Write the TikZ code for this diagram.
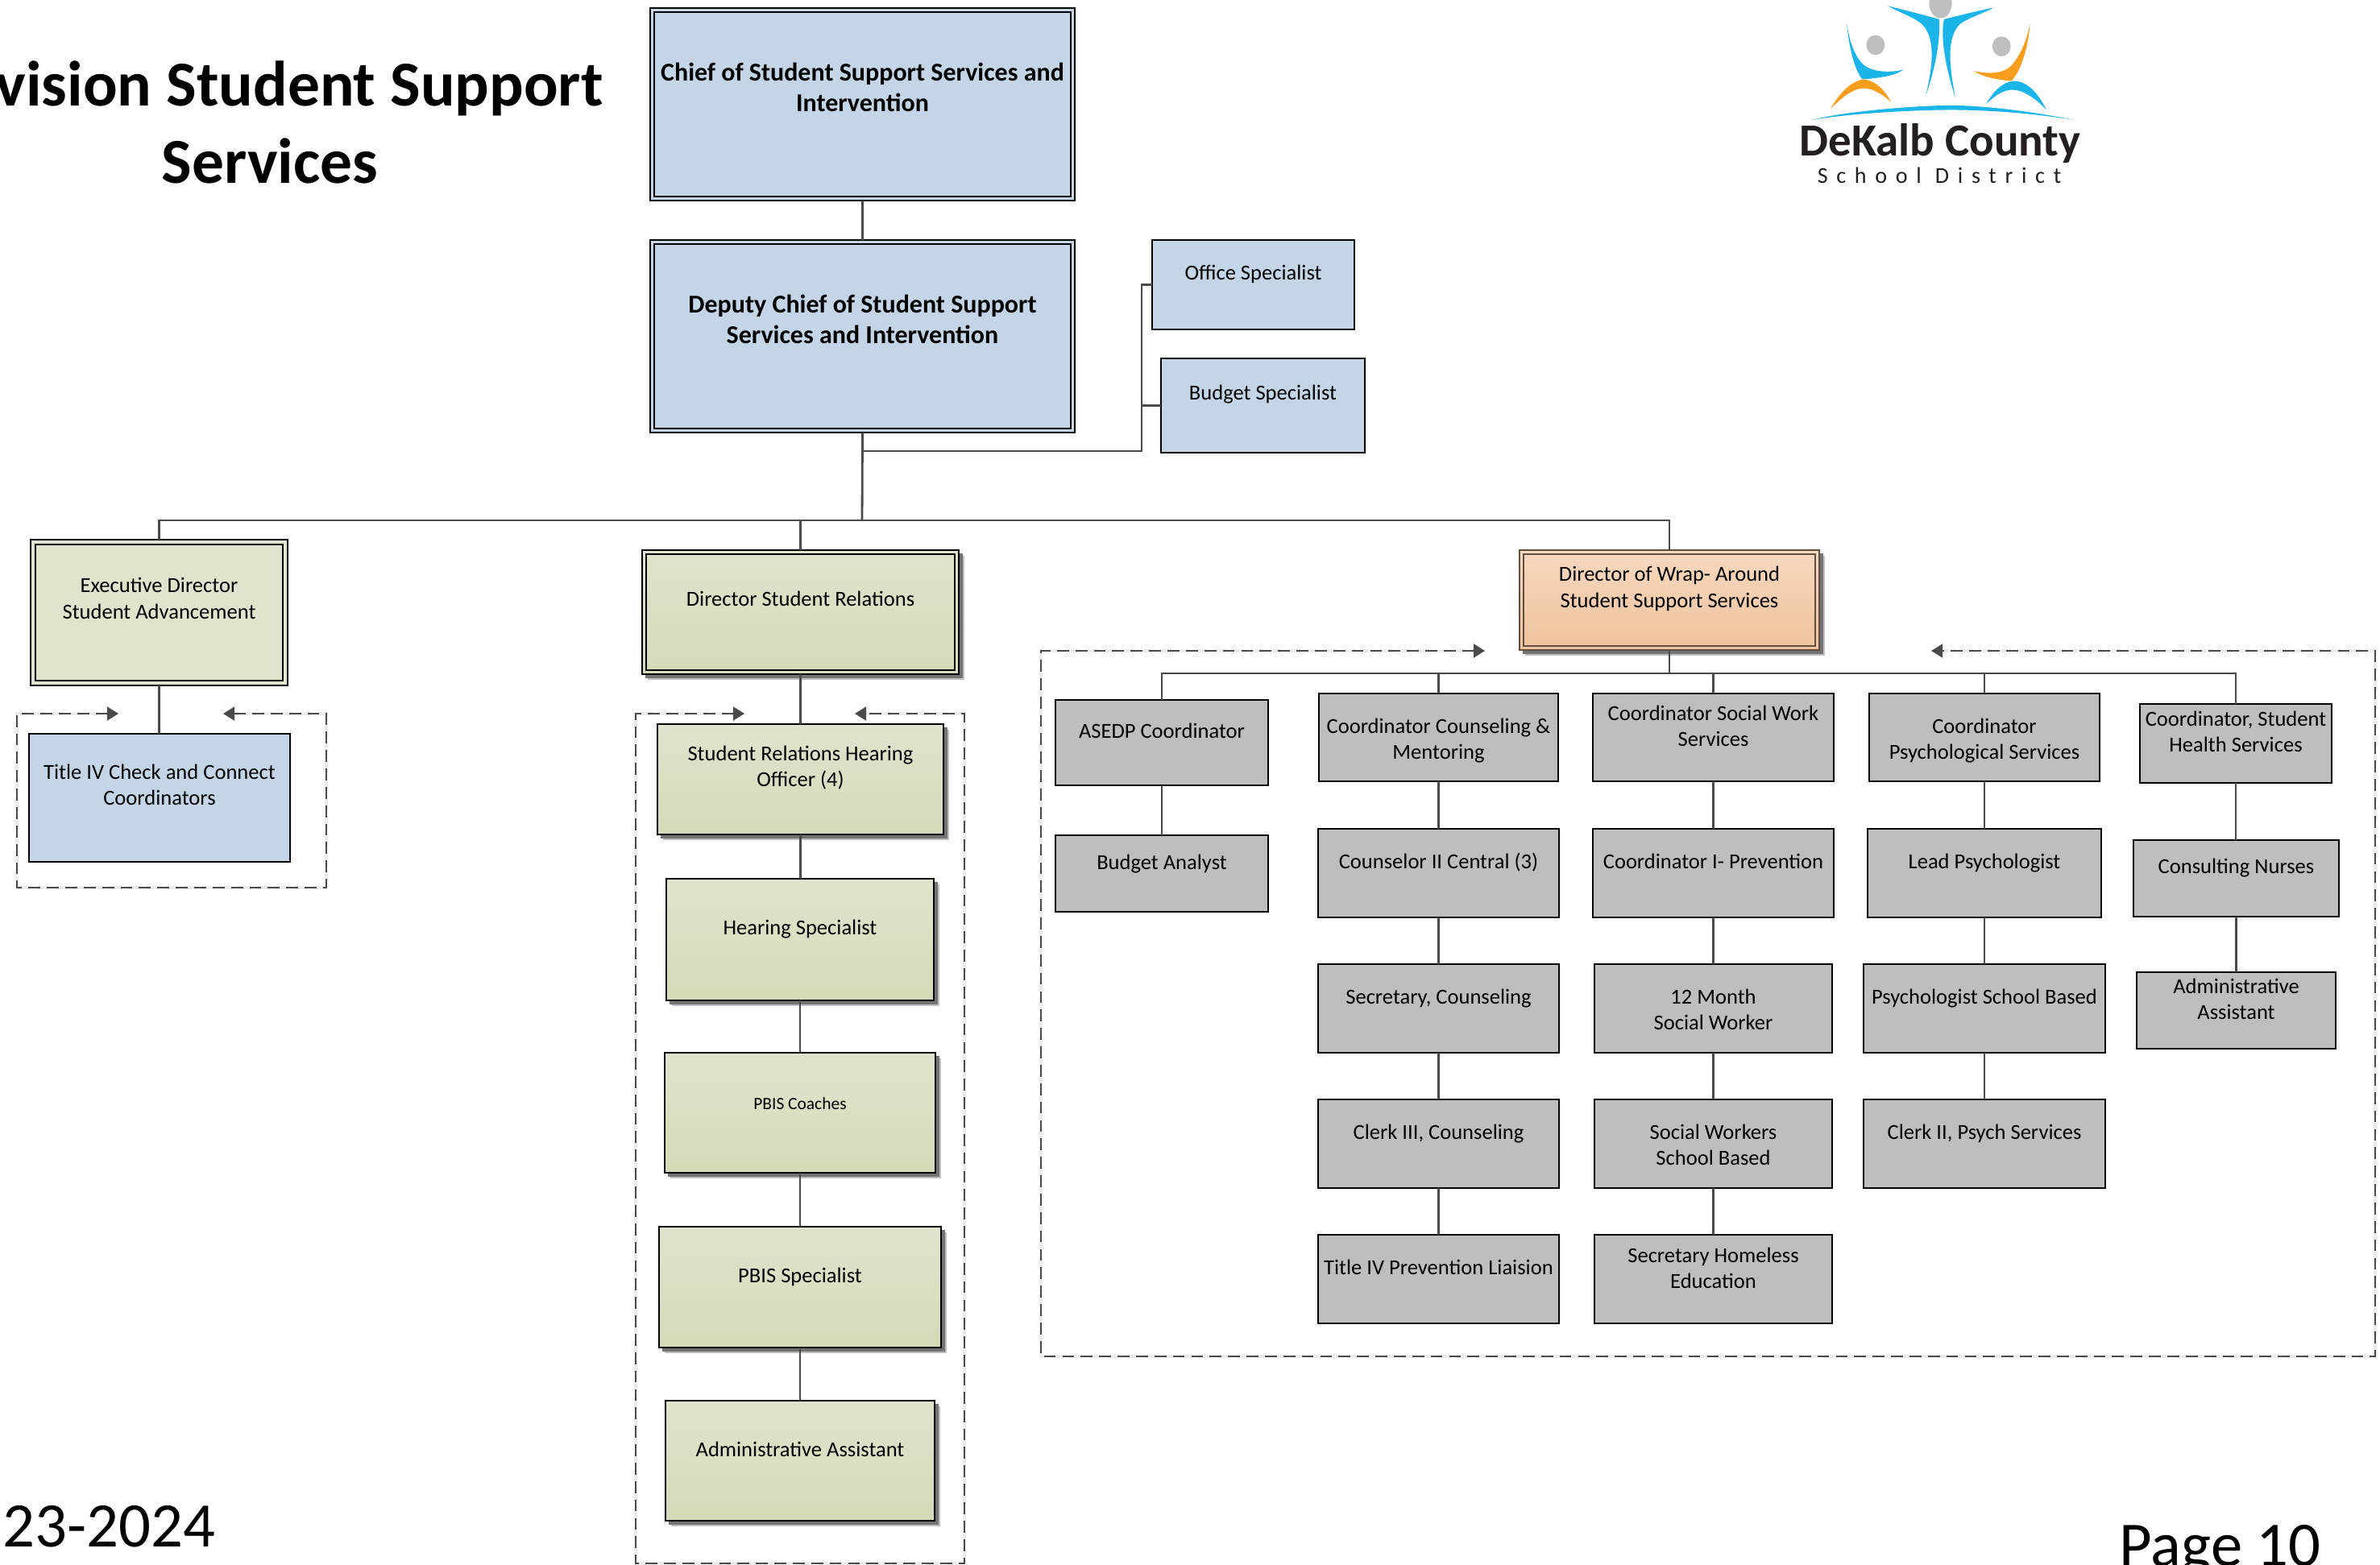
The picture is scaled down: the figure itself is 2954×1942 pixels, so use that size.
\documentclass[tikz,border=0pt]{standalone}
\usepackage{fontspec}
\setmainfont{Carlito}
\newfontfamily\logosmall[LetterSpace=38]{Carlito}
\usetikzlibrary{arrows.meta}
\definecolor{bluebox}{HTML}{C3D5E7}
\definecolor{greytop}{HTML}{BEBEBE}
\definecolor{greenA}{HTML}{DFE4CC}
\definecolor{greenB}{HTML}{D3DBB8}
\definecolor{orangeA}{HTML}{F6D8BF}
\definecolor{orangeB}{HTML}{F0C29D}
\definecolor{linec}{HTML}{4A4A4A}
\definecolor{logoblue}{HTML}{1CB5EA}
\definecolor{logoorange}{HTML}{F99D1C}
\definecolor{logogrey}{HTML}{BCBEC0}
\definecolor{logotext}{HTML}{231F20}
\tikzset{
  basebox/.style={draw=black,line width=0.72pt,inner sep=0pt,outer sep=0pt,
    font=\fontsize{7.55pt}{9.1pt}\selectfont},
  blue box/.style={basebox,fill=bluebox},
  grey box/.style={basebox,fill=greytop},
  green box/.style={basebox,top color=greenA,bottom color=greenB},
  flat green/.style={basebox,fill=greenA},
  orange box/.style={basebox,draw=black!60!orangeB,top color=orangeA,bottom color=orangeB},
  chief box/.style={blue box,font=\fontsize{9.1pt}{10.8pt}\selectfont\bfseries},
  small box/.style={green box,font=\fontsize{6.1pt}{7pt}\selectfont},
  conn/.style={draw=linec,line width=0.8pt},
  dashgroup/.style={draw=linec,line width=0.7pt,dash pattern=on 4.2pt off 2.3pt,
    {Triangle[length=4pt,width=4.8pt]}-{Triangle[length=4pt,width=4.8pt]}},
  dashshadow/.style={draw=black!8,line width=0.9pt,dash pattern=on 4.2pt off 2.3pt},
  frame/.style={draw=black,line width=0.72pt},
  big/.style={font=\fontsize{22.6pt}{26pt}\selectfont\bfseries,inner sep=0pt},
  foot/.style={font=\fontsize{22.4pt}{26pt}\selectfont,inner sep=0pt},
}
% name x1 y1 x2 y2 style first-baseline-offset text
\newcommand{\bx}[8]{%
  \node[#6] (#1) at ({(#2+#4)/2},{(#3+#5)/2})
  {\parbox[c][\dimexpr 0.28453pt*\numexpr #5-#3\relax\relax][t]{\dimexpr 0.28453pt*\numexpr #4-#2\relax\relax}{%
    \centering\vspace*{\dimexpr 0.28453pt*#7-0.7\baselineskip\relax}\strut #8}};}
% same, with a drop shadow
\newcommand{\sbx}[8]{%
  \fill[black!25] ({#2+7},{#3+7}) rectangle ({#4+7},{#5+7});
  \fill[black!55] ({#2+4},{#3+4}) rectangle ({#4+5},{#5+5});
  \bx{#1}{#2}{#3}{#4}{#5}{#6}{#7}{#8}}
\newcommand{\inframe}[2]{%
  \draw[frame] ([shift={(#2,#2)}]#1.north west) rectangle ([shift={(-#2,-#2)}]#1.south east);}
\begin{document}
\begin{tikzpicture}[x=0.01cm,y=-0.01cm]
\useasboundingbox (0,0) rectangle (2954,1942);

% dashed groups
\coordinate (dA1) at (147,886); \coordinate (dA2) at (21,886); \coordinate (dA3) at (21,1102);
\coordinate (dA4) at (405,1102); \coordinate (dA5) at (405,886); \coordinate (dA6) at (277,886);
\coordinate (dB1) at (924,886); \coordinate (dB2) at (789,886); \coordinate (dB3) at (789,1941);
\coordinate (dB4) at (1197,1941); \coordinate (dB5) at (1197,886); \coordinate (dB6) at (1061,886);
\coordinate (dC1) at (1843,808); \coordinate (dC2) at (1292,808); \coordinate (dC3) at (1292,1684);
\coordinate (dC4) at (2948,1684); \coordinate (dC5) at (2948,808); \coordinate (dC6) at (2397,808);
\foreach \g in {A,B,C}{
  \draw[dashshadow,shift={(8,9)}] (d\g1) -- (d\g2) -- (d\g3) -- (d\g4) -- (d\g5) -- (d\g6);
  \draw[dashgroup] (d\g1) -- (d\g2) -- (d\g3) -- (d\g4) -- (d\g5) -- (d\g6);
}

% top of the chart
\bx{chief}{807}{10}{1334}{249}{chief box}{91}{Chief of Student Support Services and\\Intervention}
\bx{deputy}{807}{298}{1334}{537}{chief box}{91}{Deputy Chief of Student Support\\Services and Intervention}
\inframe{chief}{5}
\inframe{deputy}{5}
\bx{office}{1430}{298}{1681}{409}{blue box}{49}{Office Specialist}
\bx{budgetsp}{1441}{445}{1694}{562}{blue box}{51}{Budget Specialist}

% left branch
\bx{exec}{38}{670}{357}{851}{flat green}{66}{Executive Director\\Student Advancement}
\inframe{exec}{6}
\bx{check}{36}{911}{360}{1070}{blue box}{56}{Title IV Check and Connect\\Coordinators}

% middle branch
\sbx{dsr}{797}{683}{1190}{837}{green box}{69}{Director Student Relations}
\inframe{dsr}{5}
\sbx{hearoff}{816}{899}{1171}{1036}{green box}{45}{Student Relations Hearing\\Officer (4)}
\sbx{hearsp}{827}{1091}{1159}{1242}{green box}{69}{Hearing Specialist}
\sbx{coaches}{825}{1307}{1161}{1456}{small box}{70}{PBIS Coaches}
\sbx{pbissp}{818}{1523}{1168}{1673}{green box}{69}{PBIS Specialist}
\sbx{adminA}{826}{1739}{1160}{1888}{green box}{69}{Administrative Assistant}

% right branch
\sbx{wrap}{1886}{683}{2258}{807}{orange box}{39}{Director of Wrap- Around\\Student Support Services}
\draw[draw=black!60!orangeB,line width=0.7pt] ([shift={(5,5)}]wrap.north west) rectangle ([shift={(-5,-5)}]wrap.south east);

\bx{asedp}{1310}{869}{1574}{975}{grey box}{47}{ASEDP Coordinator}
\bx{analyst}{1310}{1037}{1574}{1132}{grey box}{42}{Budget Analyst}

\bx{coordC}{1637}{861}{1934}{970}{grey box}{49}{Coordinator Counseling \&\\Mentoring}
\bx{couns}{1636}{1029}{1935}{1139}{grey box}{49}{Counselor II Central (3)}
\bx{secC}{1636}{1197}{1935}{1307}{grey box}{49}{Secretary, Counseling}
\bx{clerkC}{1636}{1365}{1935}{1475}{grey box}{49}{Clerk III, Counseling}
\bx{liaison}{1636}{1533}{1935}{1643}{grey box}{49}{Title IV Prevention Liaision}

\bx{coordS}{1977}{861}{2276}{970}{grey box}{33}{Coordinator Social Work\\Services}
\bx{prev}{1977}{1029}{2276}{1139}{grey box}{49}{Coordinator I- Prevention}
\bx{month}{1979}{1197}{2274}{1307}{grey box}{49}{12 Month\\Social Worker}
\bx{social}{1979}{1365}{2274}{1475}{grey box}{49}{Social Workers\\School Based}
\bx{secH}{1979}{1533}{2274}{1643}{grey box}{34}{Secretary Homeless\\Education}

\bx{coordP}{2320}{861}{2606}{970}{grey box}{49}{Coordinator\\Psychological Services}
\bx{lead}{2318}{1029}{2608}{1139}{grey box}{49}{Lead Psychologist}
\bx{psych}{2313}{1197}{2613}{1307}{grey box}{49}{Psychologist School Based}
\bx{clerkP}{2313}{1365}{2613}{1475}{grey box}{49}{Clerk II, Psych Services}

\bx{coordH}{2656}{874}{2894}{972}{grey box}{27}{Coordinator, Student\\Health Services}
\bx{nurses}{2648}{1043}{2903}{1138}{grey box}{41}{Consulting Nurses}
\bx{adminH}{2652}{1207}{2899}{1302}{grey box}{26}{Administrative\\Assistant}

% connectors
\coordinate (busMain) at (1070,646);
\coordinate (busSide) at (1070,560);
\coordinate (sideV) at (1417,560);
\coordinate (busWrap) at (2071,836);
\draw[conn] (chief.south) -- (deputy.north);
\draw[conn] (deputy.south) -- (busMain);
\draw[conn] (busSide) -- (sideV) |- (office.west);
\draw[conn] (sideV) |- (budgetsp.west);
\draw[conn] (exec.north) |- (busMain);
\draw[conn] (dsr.north) |- (busMain);
\draw[conn] (wrap.north) |- (busMain);
\draw[conn] (exec.south) -- (exec.south |- check.north);
\draw[conn] (dsr.south) -- (dsr.south |- hearoff.north);
\draw[conn] (hearoff.south) -- (hearoff.south |- hearsp.north);
\draw[conn] (hearsp.south) -- (hearsp.south |- coaches.north);
\draw[conn] (coaches.south) -- (coaches.south |- pbissp.north);
\draw[conn] (pbissp.south) -- (pbissp.south |- adminA.north);
\draw[conn] (wrap.south) -- (wrap.south |- busWrap);
\foreach \n in {asedp,coordC,coordS,coordP,coordH}{\draw[conn] (\n.north) |- (busWrap);}
\draw[conn] (asedp.south) -- (analyst.north);
\draw[conn] (coordC.south) -- (coordC.south |- couns.north);
\draw[conn] (couns.south) -- (secC.north);
\draw[conn] (secC.south) -- (clerkC.north);
\draw[conn] (clerkC.south) -- (liaison.north);
\draw[conn] (coordS.south) -- (prev.north);
\draw[conn] (prev.south) -- (prev.south |- month.north);
\draw[conn] (month.south) -- (social.north);
\draw[conn] (social.south) -- (secH.north);
\draw[conn] (coordP.south) -- (coordP.south |- lead.north);
\draw[conn] (lead.south) -- (lead.south |- psych.north);
\draw[conn] (psych.south) -- (clerkP.north);
\draw[conn] (coordH.south) -- (coordH.south |- nurses.north);
\draw[conn] (nurses.south) -- (nurses.south |- adminH.north);

% title and footers
\node[big,anchor=base east] (title1) at (749,131) {vision Student Support};
\node[big,anchor=base] (title2) at (335,227) {Services};
\node[foot,anchor=base west] (year) at (3,1920) {23-2024};
\node[foot,anchor=base west] (page) at (2630,1944) {Page 10};

% logo
\begin{scope}[shift={(2100,0)},x=0.005447cm,y=-0.003333cm]
  \fill[logogrey] (566,12) ellipse [x radius=26,y radius=56];
  \fill[logogrey] (418,168) ellipse [x radius=21,y radius=37];
  \fill[logogrey] (705,173) ellipse [x radius=21,y radius=37];
  \fill[logoblue] (446,22) .. controls (490,40) and (550,65) .. (563,72)
     .. controls (566,130) and (558,240) .. (532,358)
     .. controls (550,240) and (555,130) .. (520,85)
     .. controls (500,60) and (470,45) .. (446,22) -- cycle;
  \fill[logoblue] (687,28) .. controls (640,45) and (590,65) .. (574,72)
     .. controls (566,130) and (575,240) .. (600,365)
     .. controls (585,240) and (580,140) .. (610,90)
     .. controls (630,65) and (665,50) .. (687,28) -- cycle;
  \fill[logoblue] (352,85) .. controls (358,180) and (370,260) .. (388,296)
     .. controls (420,292) and (460,285) .. (482,260)
     .. controls (450,272) and (410,270) .. (390,240)
     .. controls (370,210) and (358,150) .. (352,85) -- cycle;
  \fill[logoorange] (316,405) .. controls (335,350) and (360,305) .. (390,296)
     .. controls (420,300) and (440,340) .. (454,382)
     .. controls (430,345) and (405,325) .. (385,330)
     .. controls (360,335) and (335,375) .. (316,405) -- cycle;
  \fill[logoorange] (770,90) .. controls (765,180) and (750,260) .. (728,302)
     .. controls (700,298) and (665,290) .. (642,265)
     .. controls (670,275) and (710,280) .. (730,240)
     .. controls (750,200) and (762,150) .. (770,90) -- cycle;
  \fill[logoblue] (670,388) .. controls (685,345) and (705,305) .. (735,302)
     .. controls (765,305) and (790,350) .. (807,410)
     .. controls (785,370) and (755,335) .. (730,335)
     .. controls (705,335) and (685,365) .. (670,388) -- cycle;
  \fill[logoblue] (275,447) .. controls (350,415) and (500,395) .. (590,393)
     .. controls (680,395) and (790,420) .. (870,448)
     .. controls (790,425) and (680,410) .. (590,410)
     .. controls (500,410) and (350,425) .. (275,447) -- cycle;
\end{scope}
\node[anchor=base,inner sep=0pt,text=logotext,font=\fontsize{16.2pt}{20pt}\selectfont\bfseries] (logo1) at (2408,193) {DeKalb County};
\node[anchor=base,inner sep=0pt,text=logotext,font=\logosmall\fontsize{8pt}{10pt}\selectfont] (logo2) at (2407,227) {School District};
\end{tikzpicture}
\end{document}
